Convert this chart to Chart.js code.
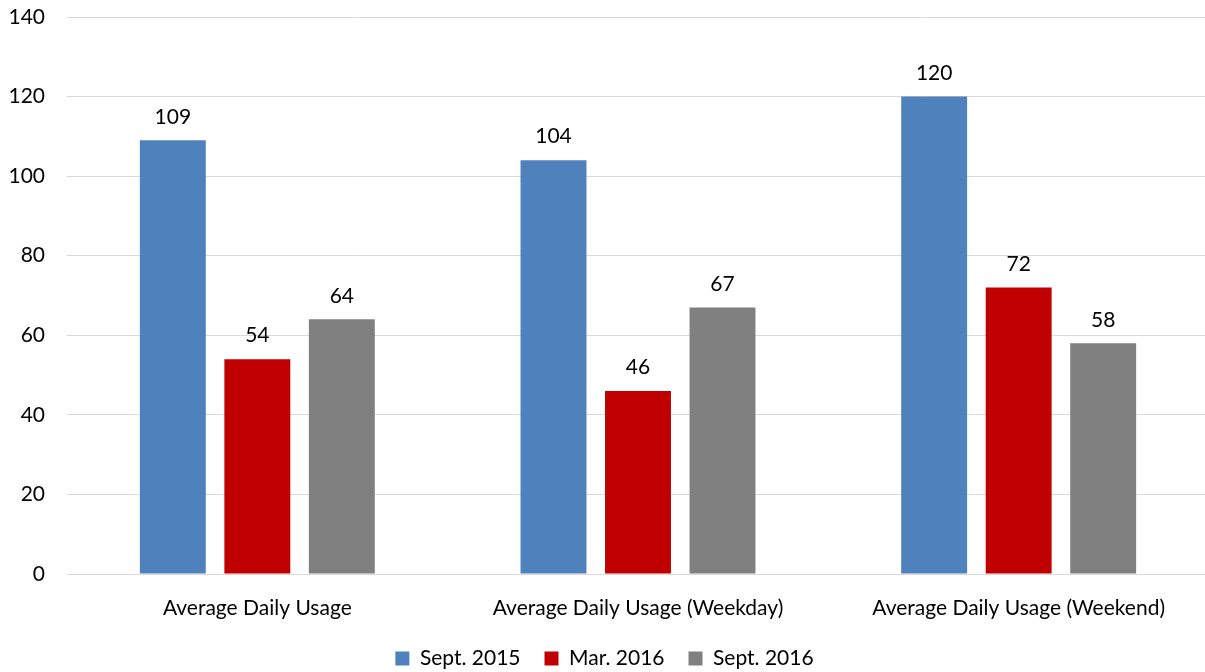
<!DOCTYPE html>
<html>
<head>
<meta charset="utf-8">
<script src="https://cdn.jsdelivr.net/npm/chart.js@4"></script>
<style>
  html, body { margin: 0; padding: 0; background: #fff; }
  #wrap { width: 1205px; height: 672px; overflow: hidden; }
  #inner { width: 1209px; height: 679px; }
</style>
</head>
<body>
<div id="wrap"><div id="inner"><canvas id="UsageChart"></canvas></div></div>
<script>
const categories = [
    'Average Daily Usage',
    'Average Daily Usage (Weekday)',
    'Average Daily Usage (Weekend)'
];
const series_labels = ['Sept. 2015', 'Mar. 2016', 'Sept. 2016'];
const sept2015 = [109, 104, 120];
const mar2016 = [54, 46, 72];
const sept2016 = [64, 67, 58];
const y_ticks = [0, 20, 40, 60, 80, 100, 120, 140];

const font_family = 'Lato, "Liberation Sans", sans-serif';
const font_size = 21;

// draws the value above each bar
const valueLabels = {
    id: 'valueLabels',
    afterDatasetsDraw(chart) {
        const ctx = chart.ctx;
        ctx.save();
        ctx.font = font_size + 'px ' + font_family;
        ctx.fillStyle = '#000';
        ctx.textAlign = 'center';
        ctx.textBaseline = 'bottom';
        chart.data.datasets.forEach((ds, i) => {
            chart.getDatasetMeta(i).data.forEach((bar, j) => {
                ctx.fillText(ds.data[j], bar.x, bar.y - 13);
            });
        });
        ctx.restore();
    }
};

const usage_data = {
    labels: categories,
    datasets: [{
        label: series_labels[0],
        data: sept2015,
        backgroundColor: '#4F81BD'
    }, {
        label: series_labels[1],
        data: mar2016,
        backgroundColor: '#C00000'
    }, {
        label: series_labels[2],
        data: sept2016,
        backgroundColor: '#808080'
    }]
};

const configUsage = {
    type: 'bar',
    data: usage_data,
    options: {
        responsive: true,
        maintainAspectRatio: false,
        animation: false,
        datasets: {
            bar: {
                categoryPercentage: 0.666,
                barPercentage: 0.78
            }
        },
        layout: {
            padding: 0
        },
        plugins: {
            legend: {
                position: 'bottom',
                labels: {
                    font: { family: font_family, size: font_size },
                    color: '#000',
                    boxWidth: 14,
                    boxHeight: 14,
                    padding: 24
                }
            },
            tooltip: { enabled: false }
        },
        scales: {
            x: {
                grid: { display: false },
                border: { display: true, color: '#D9D9D9', width: 1 },
                ticks: {
                    font: { family: font_family, size: font_size },
                    color: '#000',
                    padding: 14,
                    maxRotation: 0
                },
                afterFit(scale) { scale.height = 50; }
            },
            y: {
                min: 0,
                max: 140,
                afterBuildTicks(scale) {
                    scale.ticks = y_ticks.map(v => ({ value: v }));
                },
                grid: { color: '#D9D9D9', drawTicks: false },
                border: { display: false },
                ticks: {
                    font: { family: font_family, size: font_size },
                    color: '#000',
                    padding: 22
                },
                afterFit(scale) {
                    scale.width = 67;
                    scale.paddingTop = 17;
                }
            }
        }
    },
    plugins: [valueLabels]
};

const UsageChart = new Chart(
    document.getElementById('UsageChart'),
    configUsage
);
</script>
</body>
</html>
